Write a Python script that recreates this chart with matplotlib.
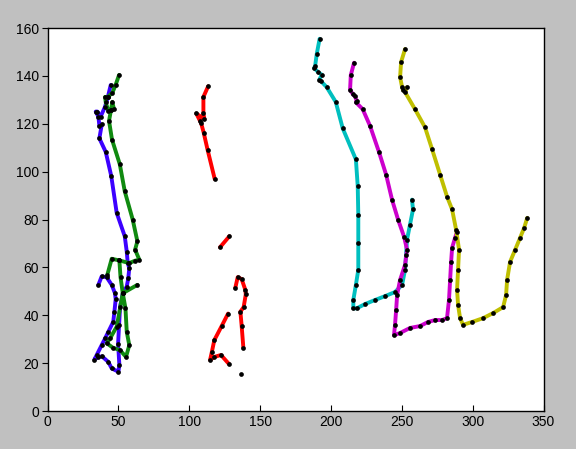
import matplotlib
matplotlib.use("Agg")
import matplotlib.pyplot as plt

# tracked paths, (x, y) points
blue_track = [(44.6, 136.2), (42.5, 131.0), (40.5, 127.0), (37.5, 123.0), (35.1, 125.1), (34.0, 125.1),
              (35.9, 123.0), (36.6, 119.1), (38.3, 119.8), (36.6, 113.9), (41.1, 108.2), (45.0, 98.1),
              (48.8, 82.8), (54.5, 73.0), (55.9, 66.6), (56.6, 61.8), (57.7, 59.7), (57.0, 55.5),
              (55.9, 52.0), (53.1, 49.2), (51.2, 43.6), (50.5, 36.0), (49.8, 28.0), (50.7, 19.2),
              (50.0, 16.4), (45.3, 17.8), (42.9, 20.5), (38.5, 22.8), (35.9, 22.6), (33.1, 21.5),
              (34.7, 23.4), (38.2, 27.5), (40.6, 30.3), (42.9, 33.1), (46.4, 37.3), (47.2, 41.5),
              (48.1, 46.7), (47.6, 49.2), (45.3, 52.7), (41.7, 55.9), (38.2, 56.2), (35.9, 52.7)]

green_upper = [(50.5, 140.4), (48.1, 136.3), (45.8, 133.0), (42.5, 131.2), (40.6, 131.2), (41.1, 128.9),
               (42.9, 125.4), (44.8, 125.8), (46.9, 126.1), (45.7, 129.1), (44.8, 125.8), (43.4, 121.2),
               (45.5, 113.4), (51.0, 103.1), (54.5, 91.8), (60.1, 80.0), (63.4, 70.9), (61.8, 67.4),
               (64.8, 63.2), (61.8, 62.8), (57.7, 61.8), (50.7, 62.9), (45.3, 63.6), (42.2, 56.9)]
green_lower = [(63.4, 52.7), (53.1, 49.2), (48.8, 35.2), (44.1, 30.3), (41.8, 28.3), (46.0, 26.5),
               (51.2, 25.4), (55.4, 22.6), (57.7, 27.5), (55.9, 33.1), (55.0, 42.9), (53.1, 49.2),
               (51.5, 56.0), (50.7, 62.9)]

red_upper = [(113.3, 135.6), (110.0, 131.2), (110.0, 124.3), (110.7, 121.9), (105.0, 124.3), (107.6, 121.2),
             (108.3, 120.5), (110.2, 116.3), (113.0, 109.0), (118.0, 96.9)]
red_dash = [(121.7, 68.4), (128.3, 73.0)]
red_hook = [(132.5, 51.4), (134.2, 55.9), (137.0, 55.1), (139.6, 50.6), (139.9, 48.7), (138.4, 43.4),
            (136.1, 41.5), (137.0, 35.5), (138.2, 26.4)]
red_lower = [(127.4, 40.7), (122.9, 35.5), (117.7, 29.6), (115.9, 24.5), (114.7, 21.3), (117.7, 22.6),
             (122.4, 23.4), (128.1, 19.6)]
red_dot = [(136.3, 15.5)]

cyan_track = [(192.0, 155.5), (190.0, 149.2), (188.8, 144.0), (188.1, 143.3), (191.1, 141.5), (193.5, 140.5),
              (191.8, 138.4), (192.8, 137.9), (197.0, 135.3), (203.4, 129.1), (208.3, 118.1), (217.6, 105.1),
              (218.9, 93.9), (219.3, 82.0), (219.3, 70.0), (219.3, 59.0), (217.6, 52.7), (215.8, 46.4),
              (215.8, 42.9), (218.2, 42.9), (224.1, 44.7), (231.2, 46.4), (238.2, 48.0), (245.2, 49.7),
              (250.2, 52.7), (252.3, 59.0), (253.0, 65.3), (253.7, 71.6), (255.8, 77.9), (257.9, 84.2),
              (257.2, 88.3)]

magenta_track = [(216.3, 145.5), (214.0, 140.3), (213.5, 134.2), (215.4, 132.4), (217.0, 131.4), (218.2, 129.6),
                 (217.7, 128.9), (222.4, 126.1), (227.6, 119.1), (233.9, 108.2), (238.9, 98.8), (243.1, 88.3),
                 (247.4, 79.9), (251.6, 72.8), (253.7, 67.4), (252.3, 61.1), (248.8, 54.8), (246.7, 48.5),
                 (246.0, 42.2), (245.2, 35.9), (244.5, 31.7), (248.8, 32.6), (255.8, 34.7), (262.9, 35.5),
                 (268.5, 37.2), (273.5, 38.0), (278.4, 38.0), (281.9, 38.8), (283.3, 46.4), (284.1, 54.8),
                 (284.8, 62.3), (285.5, 68.2), (287.6, 72.4), (289.0, 74.9)]

yellow_track = [(252.3, 151.2), (249.5, 145.8), (248.8, 139.5), (250.2, 135.3), (250.9, 134.0), (253.7, 135.3),
                (252.3, 133.2), (259.3, 126.1), (266.4, 118.5), (271.4, 109.3), (277.0, 98.8), (281.9, 89.6),
                (285.5, 84.2), (288.3, 75.8), (290.4, 67.4), (289.7, 59.0), (289.0, 50.6), (289.7, 44.3),
                (291.1, 38.9), (293.2, 36.0), (299.6, 37.2), (307.4, 38.8), (314.4, 40.9), (321.5, 43.4),
                (323.6, 48.5), (324.3, 54.8), (326.4, 62.3), (330.0, 67.4), (333.5, 72.4), (336.4, 76.6),
                (338.5, 80.7)]

xticks = [0, 50, 100, 150, 200, 250, 300, 350]
yticks = [0, 20, 40, 60, 80, 100, 120, 140, 160]

segments = [
    (blue_track, "#3c00ff"),
    (green_upper, "#108a10"),
    (green_lower, "#108a10"),
    (red_upper, "#ff0000"),
    (red_dash, "#ff0000"),
    (red_hook, "#ff0000"),
    (red_lower, "#ff0000"),
    (cyan_track, "#00bfbf"),
    (magenta_track, "#cc00cc"),
    (yellow_track, "#bfbf00"),
]

plt.rcParams["font.family"] = ["Liberation Sans", "DejaVu Sans"]

fig = plt.figure(figsize=(5.76, 4.49), dpi=100, facecolor="#c0c0c0")
ax = fig.add_axes([0.0825, 0.0846, 0.8611, 0.853])
ax.set_facecolor("white")

for pts, col in segments:
    xs = [p[0] for p in pts]
    ys = [p[1] for p in pts]
    ax.plot(xs, ys, color=col, lw=2.8, solid_capstyle="round", solid_joinstyle="round", zorder=2)
    ax.plot(xs, ys, "o", color="black", ms=3.4, mew=0, zorder=3)

# the lone red point has no line
ax.plot([p[0] for p in red_dot], [p[1] for p in red_dot], "o", color="black", ms=3.4, mew=0, zorder=3)

ax.set_xlim(0, 350)
ax.set_ylim(0, 160)
ax.set_xticks(xticks)
ax.set_yticks(yticks)
ax.tick_params(axis="x", direction="in", length=4, pad=3, labelsize=10)
ax.tick_params(axis="y", direction="out", length=4, pad=2, labelsize=10)
for sp in ax.spines.values():
    sp.set_linewidth(1.0)

fig.savefig("out.png", dpi=100, facecolor=fig.get_facecolor())
